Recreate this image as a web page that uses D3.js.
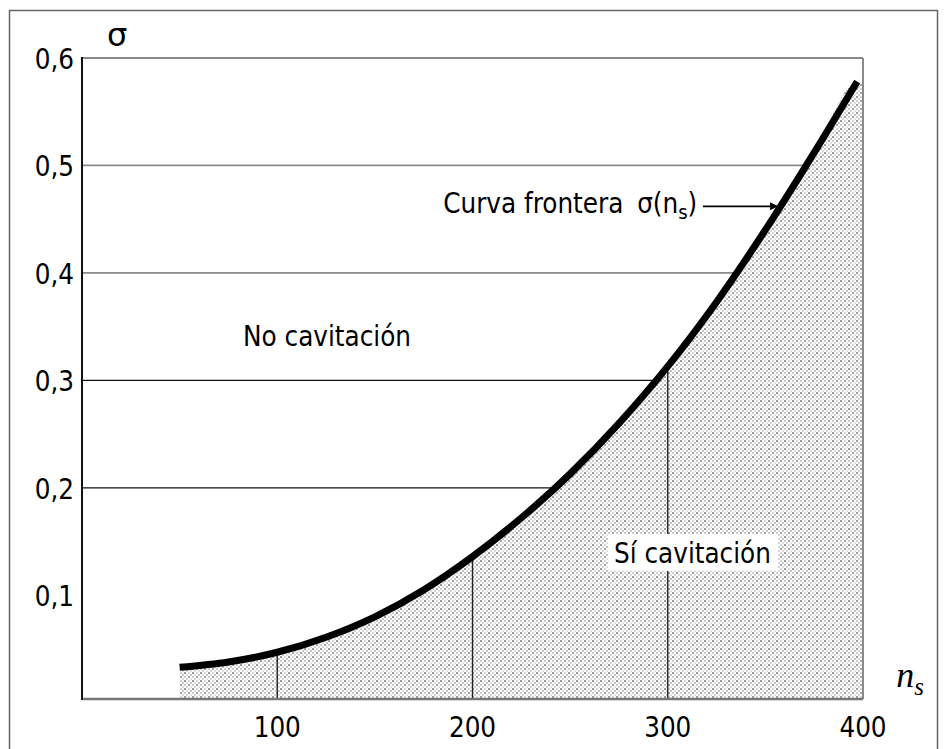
<!DOCTYPE html>
<html lang="es">
<head>
<meta charset="utf-8">
<title>Curva frontera de cavitación</title>
<style>
    body { margin: 0; background: #fff; }
    svg text { font-family: "DejaVu Sans Condensed", "DejaVu Sans", sans-serif; font-size: 27.5px; fill: #000; }
</style>
</head>
<body>
<script src="https://d3js.org/d3.v7.min.js"></script>
<script>
// Curva frontera sigma(ns)
const nsValues    = [50, 75, 100, 125, 150, 175, 200, 225, 250, 275, 300, 325, 350, 375, 397];
const sigmaValues = [0.033, 0.038, 0.047, 0.061, 0.080, 0.105, 0.136, 0.172, 0.213, 0.260, 0.313, 0.373, 0.440, 0.512, 0.578];

const xTicks = [100, 200, 300, 400];
const yTicks = [0.1, 0.2, 0.3, 0.4, 0.5, 0.6];
const hLines = [0.2, 0.3, 0.4, 0.5];     // lineas horizontales hasta la curva
const vLines = [100, 200, 300];          // lineas verticales bajo la curva
const darkLines = [0.2, 0.3];

const width = 947, height = 749;

// el eje horizontal del dibujo queda un poco por encima de sigma = 0
const x = d3.scaleLinear().domain([0, 400]).range([82, 863]);
const y = d3.scaleLinear().domain([0.0035, 0.6]).range([699, 58]);
const yBase = y.domain()[0];

const fmt = d3.formatLocale({decimal: ",", thousands: ".", grouping: [3], currency: ["", ""]}).format(".1f");

const data = nsValues.map((n, i) => ({ns: n, s: sigmaValues[i]}));
const areaData = data.concat([{ns: 400, s: sigmaValues[sigmaValues.length - 1]}]);

const svg = d3.select("body").append("svg")
    .attr("width", width)
    .attr("height", height);

// marco exterior
svg.append("rect")
    .attr("x", 9.5).attr("y", 10.5)
    .attr("width", 928).attr("height", 760)
    .attr("fill", "none").attr("stroke", "#666").attr("stroke-width", 1.5);

// trama de puntos
const defs = svg.append("defs");
const pat = defs.append("pattern")
    .attr("id", "dots")
    .attr("patternUnits", "userSpaceOnUse")
    .attr("width", 8).attr("height", 8);
pat.append("rect").attr("width", 8).attr("height", 8).attr("fill", "#fff");
[[1, 1, "#333"], [5, 1, "#aaa"], [3, 3, "#bbb"], [7, 3, "#888"],
 [1, 5, "#999"], [5, 5, "#444"], [3, 7, "#aaa"], [7, 7, "#bbb"]]
    .forEach(([px, py, c]) => pat.append("rect")
        .attr("x", px - 0.7).attr("y", py - 0.7)
        .attr("width", 1.4).attr("height", 1.4).attr("fill", c));

const area = d3.area()
    .x(d => x(d.ns))
    .y0(y(yBase))
    .y1(d => y(d.s))
    .curve(d3.curveMonotoneX);

const line = d3.line()
    .x(d => x(d.ns))
    .y(d => y(d.s))
    .curve(d3.curveMonotoneX);

defs.append("clipPath").attr("id", "under")
    .append("path").attr("d", area(areaData));

// lineas horizontales (la zona sombreada tapa el tramo bajo la curva)
svg.append("g")
    .selectAll("line")
    .data(hLines)
    .join("line")
    .attr("x1", x(0)).attr("x2", x(400))
    .attr("y1", d => y(d)).attr("y2", d => y(d))
    .attr("stroke", d => darkLines.includes(d) ? "#111" : "#8a8a8a")
    .attr("stroke-width", d => darkLines.includes(d) ? 1.4 : 1.7);

// zona de cavitacion
svg.append("path")
    .attr("d", area(areaData))
    .attr("fill", "url(#dots)");

// lineas verticales bajo la curva
svg.append("g")
    .attr("clip-path", "url(#under)")
    .selectAll("line")
    .data(vLines)
    .join("line")
    .attr("x1", d => x(d)).attr("x2", d => x(d))
    .attr("y1", y(yBase)).attr("y2", y(0.6))
    .attr("stroke", "#222").attr("stroke-width", 1.4);

// ejes y bordes del grafico
svg.append("line")
    .attr("x1", x(0)).attr("x2", x(400))
    .attr("y1", y(0.6)).attr("y2", y(0.6))
    .attr("stroke", "#8a8a8a").attr("stroke-width", 2);
svg.append("line")
    .attr("x1", x(400)).attr("x2", x(400))
    .attr("y1", y(0.6)).attr("y2", y(yBase))
    .attr("stroke", "#8a8a8a").attr("stroke-width", 2);
svg.append("line")
    .attr("x1", x(0)).attr("x2", x(400))
    .attr("y1", y(yBase)).attr("y2", y(yBase))
    .attr("stroke", "#777").attr("stroke-width", 2.5);
svg.append("line")
    .attr("x1", x(0)).attr("x2", x(0))
    .attr("y1", y(0.6) - 1).attr("y2", y(yBase) + 1)
    .attr("stroke", "#111").attr("stroke-width", 2);

// curva frontera
svg.append("path")
    .attr("d", line(data))
    .attr("fill", "none")
    .attr("stroke", "#000")
    .attr("stroke-width", 7);

// etiquetas de los ejes
svg.append("g")
    .selectAll("text")
    .data(yTicks)
    .join("text")
    .attr("x", x(0) - 8)
    .attr("y", d => y(d))
    .attr("dy", "0.4em")
    .attr("text-anchor", "end")
    .text(d => fmt(d));

svg.append("g")
    .selectAll("text")
    .data(xTicks)
    .join("text")
    .attr("x", d => x(d))
    .attr("y", y(yBase) + 38)
    .attr("text-anchor", "middle")
    .text(d => d);

svg.append("text")
    .attr("x", x(18))
    .attr("y", y(0.6) - 12)
    .attr("text-anchor", "middle")
    .style("font-family", "'DejaVu Sans', sans-serif")
    .style("font-size", "32px")
    .text("σ");

const nsLabel = svg.append("text")
    .attr("x", x(417))
    .attr("y", y(yBase) - 12)
    .style("font-family", "'Liberation Serif', 'DejaVu Serif', serif")
    .style("font-style", "italic")
    .style("font-size", "36px");
nsLabel.append("tspan").text("n");
nsLabel.append("tspan").attr("dy", 8).style("font-size", "25px").text("s");

// textos interiores
svg.append("text")
    .attr("x", x(82.5))
    .attr("y", y(0.332))
    .text("No cavitación");

const siX = x(272.5), siY = y(0.13);
svg.append("rect")
    .attr("x", siX - 6).attr("y", siY - 29)
    .attr("width", 170).attr("height", 37)
    .attr("fill", "#fff");
svg.append("text")
    .attr("x", siX)
    .attr("y", siY)
    .text("Sí cavitación");

const cf = svg.append("text")
    .attr("x", x(185))
    .attr("y", y(0.456));
cf.append("tspan").text("Curva frontera ");
cf.append("tspan").attr("dx", 6).text("σ(n");
cf.append("tspan").attr("dy", 6).style("font-size", "20px").text("s");
cf.append("tspan").attr("dy", -6).text(")");

// flecha hacia la curva
defs.append("marker")
    .attr("id", "arrow")
    .attr("viewBox", "0 0 10 10")
    .attr("refX", 10).attr("refY", 5)
    .attr("markerWidth", 11).attr("markerHeight", 8)
    .attr("markerUnits", "userSpaceOnUse")
    .attr("orient", "auto")
    .append("path").attr("d", "M0,0L10,5L0,10z").attr("fill", "#000");

svg.append("line")
    .attr("x1", x(318)).attr("x2", x(356.5))
    .attr("y1", y(0.462)).attr("y2", y(0.462))
    .attr("stroke", "#000").attr("stroke-width", 1.8)
    .attr("marker-end", "url(#arrow)");
</script>
</body>
</html>
